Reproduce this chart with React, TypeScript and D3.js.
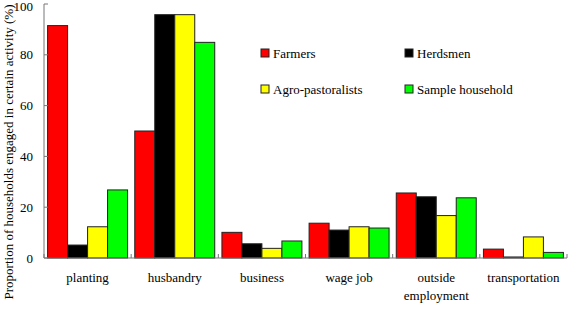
import React from "react";
import * as d3 from "d3";

const categories = ["planting", "husbandry", "business", "wage job", "outside employment", "transportation"];
const seriesNames = ["Farmers", "Herdsmen", "Agro-pastoralists", "Sample household"];
const farmers = [91.5, 50, 10.1, 13.7, 25.6, 3.5];
const herdsmen = [5.1, 95.8, 5.6, 11, 24.1, 0.4];
const agroPastoralists = [12.3, 95.8, 3.8, 12.3, 16.7, 8.3];
const sampleHousehold = [26.8, 84.9, 6.7, 11.8, 23.7, 2.2];
const yTicks = [0, 20, 40, 60, 80, 100];
const colors = ["#ff0000", "#000000", "#ffff00", "#00ff00"];

const W = 569, H = 317;
const left = 44, right = 567, top = 4, bottom = 258;
const font = "'Liberation Serif', 'Times New Roman', serif";
const ts = { fontFamily: font };

export default function App() {
  const series = [farmers, herdsmen, agroPastoralists, sampleHousehold];
  const x = d3.scaleBand<string>().domain(categories).range([left, right]).paddingInner(0).paddingOuter(0);
  const inner = d3.scaleBand<number>().domain([0, 1, 2, 3]).range([0, x.bandwidth()]).paddingOuter(0.18).paddingInner(0);
  const y = d3.scaleLinear().domain([0, 100]).range([bottom, top]);
  const boundaries = categories.map((c) => (x(c) as number)).concat([right]);

  return (
    <svg width={W} height={H} style={{ position: "absolute", left: 0, top: 0, background: "#fff" }}>
      {categories.map((c, ci) => (
        <g key={c}>
          {series.map((s, si) => (
            <rect
              key={si}
              x={(x(c) as number) + (inner(si) as number)}
              y={y(s[ci])}
              width={inner.bandwidth()}
              height={bottom - y(s[ci])}
              fill={colors[si]}
              stroke="#222"
              strokeWidth={1}
            />
          ))}
        </g>
      ))}
      <line x1={left} x2={left} y1={top} y2={bottom} stroke="#777" strokeWidth={1} />
      {yTicks.map((t) => (
        <g key={t}>
          <line x1={left} x2={left + 4} y1={y(t)} y2={y(t)} stroke="#777" />
          <text x={33} y={Math.max(y(t), 6)} dy="0.35em" textAnchor="end" fontSize={13} fill="#000" style={ts}>{t}</text>
        </g>
      ))}
      <line x1={left} x2={right} y1={bottom} y2={bottom} stroke="#777" strokeWidth={1} />
      {boundaries.map((b, i) => (
        <line key={i} x1={b} x2={b} y1={bottom} y2={bottom - 4} stroke="#777" />
      ))}
      {categories.map((c) => {
        const cx = (x(c) as number) + x.bandwidth() / 2;
        const parts = c === "outside employment" ? ["outside", "employment"] : [c];
        return (
          <text key={c} x={cx} y={282} textAnchor="middle" fontSize={13} fill="#000" style={ts}>
            {parts.map((p, i) => (
              <tspan key={i} x={cx} dy={i === 0 ? 0 : 18}>{p}</tspan>
            ))}
          </text>
        );
      })}
      <text
        transform={`translate(13, 152) rotate(-90)`}
        textAnchor="middle"
        fontSize={13}
        fill="#000"
        style={ts}
      >
        Proportion of households engaged in certain activity (%)
      </text>
      {seriesNames.map((n, i) => {
        const lx = i % 2 === 0 ? 261 : 405;
        const ly = i < 2 ? 53 : 89;
        return (
          <g key={n}>
            <rect x={lx} y={ly - 4} width={8} height={8} fill={colors[i]} stroke="#222" />
            <text x={lx + 12} y={ly} dy="0.35em" fontSize={13} fill="#000" style={ts}>{n}</text>
          </g>
        );
      })}
    </svg>
  );
}
